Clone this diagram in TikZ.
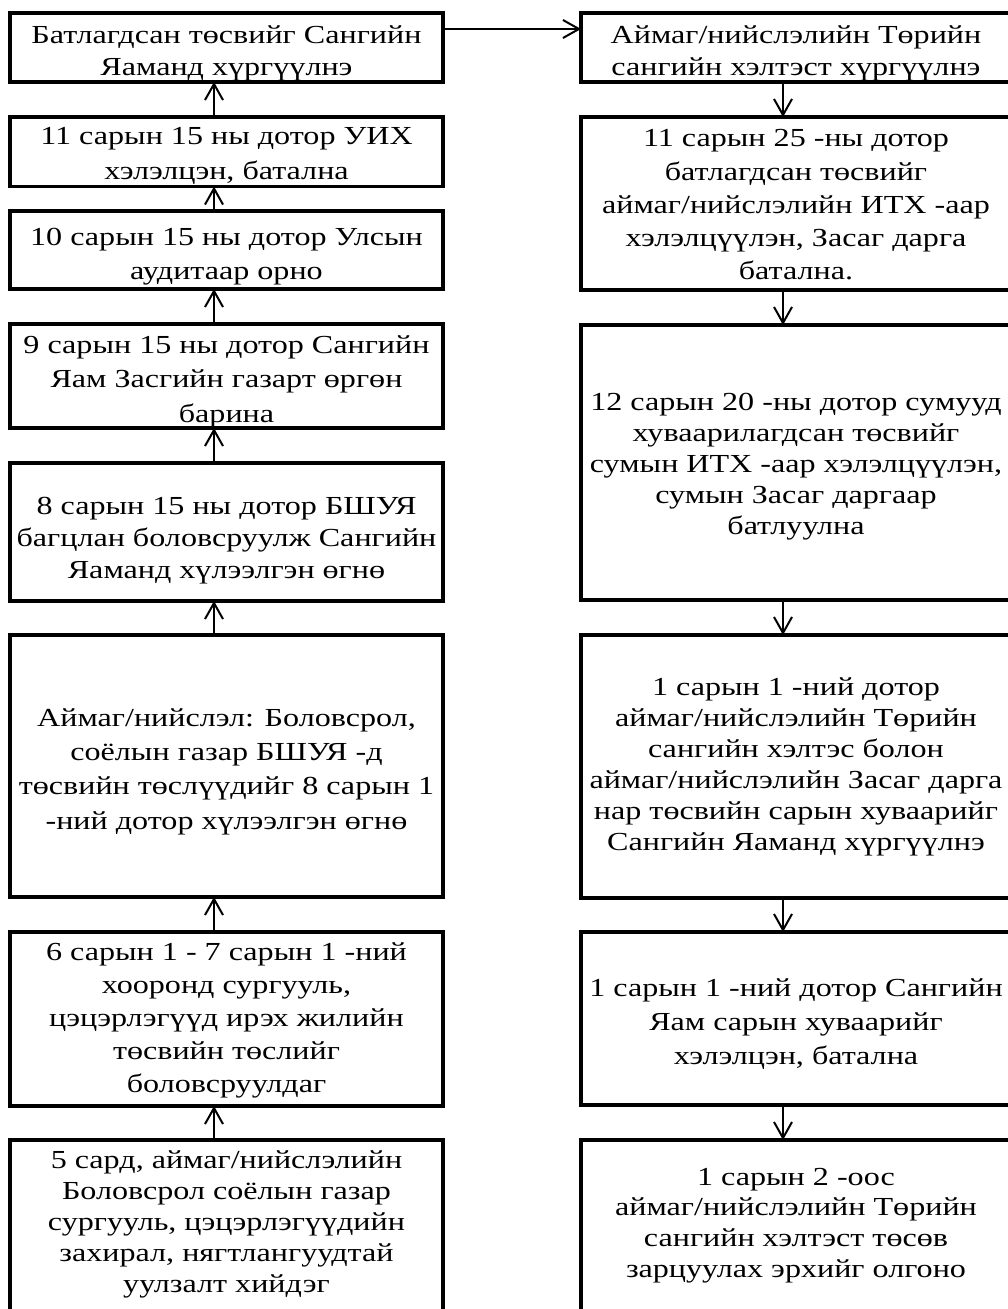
\documentclass[tikz,border=0pt]{standalone}
\usepackage{fontspec}
\setmainfont{Liberation Serif}[FakeStretch=1.235]
\usetikzlibrary{arrows.meta}
\newcommand{\fr}[1]{\rule{0pt}{#1pt}}
\newcommand{\lr}[1]{\rule[-#1pt]{0pt}{#1pt}}
\begin{document}
\begin{tikzpicture}[x=1pt,y=-1pt,
  box/.style={draw=black, line width=3.2pt, rectangle, inner sep=0pt, outer sep=0pt,
    align=center, anchor=north west, font=\fontsize{26}{34.3}\selectfont},
  ls/.style={font=\fontsize{26}{#1}\selectfont},
  lbox/.style={box, minimum width=433pt},
  rbox/.style={box, minimum width=430pt},
  flow/.style={draw=black, line width=2pt, -{Straight Barb[length=16pt,width=18pt]}}
]
\clip (0,0) rectangle (1008,1309);
\useasboundingbox (0,0) rectangle (1008,1309);
% left column
\node[lbox, minimum height=69pt, ls=32.8pt] (L1) at (10,13) {\fr{30}Батлагдсан төсвийг Сангийн\\Яаманд хүргүүлнэ\lr{6}};
\node[lbox, minimum height=69.5pt, ls=35pt] (L2) at (10,117) {\fr{25.5}11 сарын 15 ны дотор УИХ\\хэлэлцэн, батална\lr{6}};
\node[lbox, minimum height=78pt] (L3) at (10,211) {\fr{30}10 сарын 15 ны дотор Улсын\\аудитаар орно};
\node[lbox, minimum height=104pt] (L4) at (10,324) {\fr{29}9 сарын 15 ны дотор Сангийн\\Яам Засгийн газарт өргөн\\барина};
\node[lbox, minimum height=138pt, ls=32pt] (L5) at (10,463) {\fr{36}8 сарын 15 ны дотор БШУЯ\\багцлан боловсруулж Сангийн\\Яаманд хүлээлгэн өгнө\lr{8}};
\node[lbox, minimum height=262pt] (L6) at (10,635) {\fr{29}Аймаг/нийслэл: Боловсрол,\\соёлын газар БШУЯ -д\\төсвийн төслүүдийг 8 сарын 1\\-ний дотор хүлээлгэн өгнө};
\node[lbox, minimum height=174pt, ls=33.2pt] (L7) at (10,932) {\fr{22.8}6 сарын 1 - 7 сарын 1 -ний\\хооронд сургууль,\\цэцэрлэгүүд ирэх жилийн\\төсвийн төслийг\\боловсруулдаг\lr{8}};
\node[lbox, minimum height=180pt, ls=31.1pt] (L8) at (10,1140) {\fr{24}5 сард, аймаг/нийслэлийн\\Боловсрол соёлын газар\\сургууль, цэцэрлэгүүдийн\\захирал, нягтлангуудтай\\уулзалт хийдэг\lr{23}};
% right column
\node[rbox, minimum height=69pt, ls=32.8pt] (R1) at (581,13) {\fr{30}Аймаг/нийслэлийн Төрийн\\сангийн хэлтэст хүргүүлнэ\lr{6}};
\node[rbox, minimum height=173pt, ls=33.3pt] (R2) at (581,117) {\fr{27.6}11 сарын 25 -ны дотор\\батлагдсан төсвийг\\аймаг/нийслэлийн ИТХ -аар\\хэлэлцүүлэн, Засаг дарга\\батална.\lr{8}};
\node[rbox, minimum height=275pt, ls=31pt] (R3) at (581,325) {\fr{28.4}12 сарын 20 -ны дотор сумууд\\хуваарилагдсан төсвийг\\сумын ИТХ -аар хэлэлцүүлэн,\\сумын Засаг даргаар\\батлуулна\lr{8}};
\node[rbox, minimum height=263pt, ls=31pt] (R4) at (581,635) {\fr{24}1 сарын 1 -ний дотор\\аймаг/нийслэлийн Төрийн\\сангийн хэлтэс болон\\аймаг/нийслэлийн Засаг дарга\\нар төсвийн сарын хуваарийг\\Сангийн Яаманд хүргүүлнэ\lr{12}};
\node[rbox, minimum height=173pt] (R5) at (581,932) {\fr{29}1 сарын 1 -ний дотор Сангийн\\Яам сарын хуваарийг\\хэлэлцэн, батална};
\node[rbox, minimum height=180pt, ls=30.7pt] (R6) at (581,1140) {\fr{24.1}1 сарын 2 -оос\\аймаг/нийслэлийн Төрийн\\сангийн хэлтэст төсөв\\зарцуулах эрхийг олгоно\lr{22}};
% left arrows (upward)
\foreach \a/\b in {L8/L7, L7/L6, L6/L5, L5/L4, L4/L3, L3/L2, L2/L1}
  \draw[flow] ([xshift=-12.5pt]\a.north) -- ([xshift=-12.5pt]\b.south);
% right arrows (downward)
\foreach \a/\b in {R1/R2, R2/R3, R3/R4, R4/R5, R5/R6}
  \draw[flow] ([xshift=-13pt]\a.south) -- ([xshift=-13pt]\b.north);
% top horizontal arrow
\draw[flow] ([yshift=18.5pt]L1.east) -- ([yshift=18.5pt]R1.west);
\end{tikzpicture}
\end{document}
